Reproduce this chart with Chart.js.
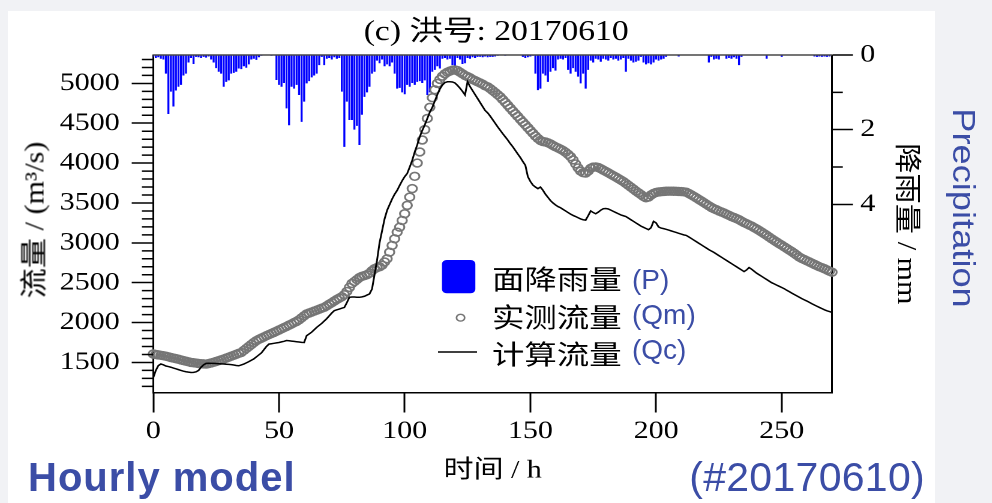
<!DOCTYPE html>
<html lang="zh">
<head>
<meta charset="utf-8">
<title>洪号 20170610</title>
<script src="https://cdn.jsdelivr.net/npm/chart.js@4/dist/chart.umd.min.js"></script>
<style>
  html, body { margin: 0; padding: 0; }
  body { position: relative; width: 992px; height: 503px; overflow: hidden; background: #f1f2f5; }
  #sheet { position: absolute; left: 8px; top: 11px; width: 927px; height: 492px; background: #fff; }
  #plot { position: absolute; left: 0; top: 0; width: 827px; height: 503px; transform: scaleX(1.2); transform-origin: 0 0; }
  .note { position: absolute; color: #3b4da6; white-space: nowrap; line-height: 1; font-family: 'Liberation Sans', Arial, sans-serif; }
  .axis-name { position: absolute; white-space: nowrap; line-height: 1; color: #000; font-family: 'Liberation Serif', 'Noto Sans CJK SC', serif; font-size: 27px; }
</style>
</head>
<body>
<div id="sheet"></div>
<div id="plot"><canvas id="hydrograph"></canvas></div>
<div class="axis-name" style="left:35px;top:220px;transform:translate(-50%,-50%) rotate(-90deg) scaleX(1.12)">流量 / (m³/s)</div>
<div class="axis-name" style="left:906px;top:224px;transform:translate(-50%,-50%) rotate(90deg) scaleX(1.12)">降雨量 / mm</div>
<div class="note" style="left:632px;top:266px;font-size:28px">(P)</div>
<div class="note" style="left:632px;top:301px;font-size:28px">(Qm)</div>
<div class="note" style="left:632px;top:336px;font-size:28px">(Qc)</div>
<div class="note" style="left:28px;top:457px;font-size:40px;font-weight:bold;letter-spacing:1px">Hourly model</div>
<div class="note" style="right:67px;top:457px;font-size:41px;letter-spacing:0.3px">(#20170610)</div>
<div class="note" style="left:963px;top:208px;font-size:31px;transform:translate(-50%,-50%) rotate(90deg) scaleX(1.17)">Precipitation</div>

<script>
// Flood event 20170610, hourly steps from hour 0 to hour 270
const hours = Array.from({ length: 271 }, (_, i) => i);

// Areal rainfall per hour (mm)
const rainfall = [
  0.05,0.08,0.06,0.1,0.12,0.5,1.58,0.98,1.38,0.95,
  0.85,0.8,0.55,0.5,0.2,0.08,0.24,0.05,0.06,0.08,
  0.05,0.07,0.04,0.12,0.2,0.35,0.45,0.5,0.85,0.72,
  0.68,0.5,0.48,0.45,0.36,0.38,0.3,0.34,0.25,0.12,
  0.1,0.13,0.06,0.02,0,0,0,0.02,0,0.67,
  0.8,0.85,0.75,1.43,1.88,0.85,0.9,0.8,1.07,1.79,
  1.25,0.76,0.7,0.6,0.55,0.5,0.27,0.05,0.27,0.1,
  0.08,0.12,0.06,0.1,0.08,0.98,2.46,1.25,1.74,1.74,
  2.0,1.9,2.41,1.6,1.12,1.0,0.85,0.5,0.45,0.15,
  0.22,0.12,0.3,0.25,0.3,0.2,0.5,0.9,0.88,1.0,
  1.05,0.8,0.85,0.75,0.8,0.72,0.7,0.75,0.68,1.07,
  1.0,0.45,0.4,0.3,0.36,0.1,0.08,0.12,0.1,0.27,
  0.3,0.08,0.12,0.24,0.22,0.08,0.1,0.06,0.08,0.05,
  0.05,0.06,0.04,0.06,0.05,0.05,0.04,0.02,0,0,
  0.02,0,0,0,0,0,0,0.05,0.08,0.06,
  0.04,0.02,0.5,0.94,0.9,0.5,0.55,0.72,0.45,0.35,
  0.42,0.12,0.1,0.12,0.08,0.4,0.5,0.35,0.45,0.58,
  0.76,0.5,0.9,0.4,0.15,0.2,0.1,0.12,0.18,0.1,
  0.12,0.15,0.08,0.12,0.1,0.15,0.12,0.08,0.45,0.1,
  0.15,0.2,0.18,0.15,0.05,0.2,0.25,0.22,0.25,0.2,
  0.12,0.15,0.12,0.1,0.05,0,0,0,0,0.04,
  0,0,0,0,0,0,0,0,0,0,
  0,0.2,0.05,0.12,0.1,0.12,0,0,0.1,0.08,
  0.1,0.06,0.1,0.27,0.05,0,0,0,0,0,
  0,0,0,0,0.1,0,0,0,0,0,
  0.05,0,0,0,0,0,0,0,0,0,
  0,0,0,0.04,0.05,0.04,0.05,0.04,0.05,0.04,
  0
];

// Measured discharge Qm (m3/s)
const observedFlow = [
  1606,1600,1595,1590,1585,1578,1570,1562,1555,1548,
  1540,1532,1524,1516,1508,1500,1496,1492,1488,1485,
  1482,1480,1486,1494,1502,1512,1522,1533,1543,1555,
  1566,1578,1590,1602,1614,1626,1650,1675,1700,1725,
  1750,1773,1790,1805,1820,1835,1850,1864,1877,1892,
  1907,1922,1937,1952,1968,1983,2000,2015,2035,2060,
  2085,2108,2120,2132,2144,2156,2168,2180,2191,2210,
  2230,2250,2270,2290,2308,2325,2350,2390,2440,2490,
  2515,2540,2565,2580,2590,2600,2620,2650,2675,2690,
  2700,2720,2760,2800,2883,2967,3051,3134,3197,3281,
  3365,3470,3574,3680,3834,4001,4140,4290,4420,4560,
  4700,4820,4920,5000,5050,5090,5120,5140,5155,5165,
  5168,5160,5140,5120,5100,5085,5070,5050,5035,5020,
  5005,4990,4970,4957,4935,4910,4885,4858,4831,4797,
  4762,4727,4690,4655,4620,4585,4550,4515,4480,4445,
  4410,4375,4340,4310,4285,4270,4265,4255,4240,4222,
  4205,4190,4175,4158,4135,4110,4080,4040,3990,3940,
  3900,3880,3875,3900,3935,3950,3952,3945,3930,3912,
  3895,3878,3860,3842,3825,3806,3788,3768,3745,3722,
  3698,3675,3650,3628,3605,3582,3565,3575,3600,3620,
  3632,3638,3642,3645,3647,3648,3648,3647,3646,3645,
  3643,3640,3635,3620,3602,3583,3565,3545,3525,3505,
  3485,3465,3445,3428,3415,3400,3388,3375,3360,3345,
  3330,3318,3305,3290,3272,3255,3240,3225,3210,3192,
  3175,3155,3135,3115,3095,3072,3050,3030,3010,2990,
  2970,2950,2930,2910,2890,2868,2845,2822,2805,2790,
  2775,2760,2745,2730,2715,2700,2688,2675,2660,2645,
  2632
];

// Computed discharge Qc (m3/s)
const simulatedFlow = [
  1311,1400,1460,1480,1470,1455,1448,1440,1430,1420,
  1410,1400,1390,1383,1378,1374,1376,1382,1400,1440,
  1470,1488,1490,1489,1488,1486,1484,1482,1480,1478,
  1476,1473,1468,1462,1458,1468,1480,1495,1510,1528,
  1545,1570,1595,1620,1660,1700,1730,1735,1740,1745,
  1750,1758,1765,1775,1772,1768,1764,1760,1756,1752,
  1750,1836,1858,1880,1910,1940,1965,1990,2020,2050,
  2085,2120,2150,2160,2170,2180,2190,2250,2317,2320,
  2320,2318,2317,2322,2330,2345,2359,2420,2600,2780,
  3000,3150,3300,3407,3480,3550,3610,3658,3720,3780,
  3830,3870,3950,4035,4140,4230,4330,4410,4480,4560,
  4640,4700,4780,4860,4930,4980,5010,5020,5020,5018,
  5005,4975,4940,4900,4855,5020,4960,4910,4860,4810,
  4760,4710,4660,4630,4590,4545,4500,4455,4412,4370,
  4330,4290,4245,4205,4160,4115,4070,4020,3973,3830,
  3770,3725,3700,3680,3700,3660,3610,3570,3530,3500,
  3475,3455,3440,3420,3400,3380,3360,3344,3330,3315,
  3300,3290,3285,3340,3400,3380,3365,3385,3410,3428,
  3430,3425,3410,3395,3380,3365,3350,3340,3330,3310,
  3290,3270,3250,3230,3210,3195,3180,3165,3190,3270,
  3250,3200,3185,3178,3170,3160,3150,3140,3130,3120,
  3110,3100,3093,3075,3055,3035,3015,2995,2975,2955,
  2935,2915,2897,2880,2860,2840,2820,2800,2780,2760,
  2740,2720,2700,2680,2660,2640,2660,2690,2670,2645,
  2620,2600,2580,2560,2540,2520,2500,2485,2470,2455,
  2440,2425,2405,2388,2370,2352,2335,2318,2300,2285,
  2270,2253,2236,2220,2205,2190,2175,2160,2148,2138,
  2128
];

// Axis ticks
const hourTicks = [0, 50, 100, 150, 200, 250];
const flowTicks = [1500, 2000, 2500, 3000, 3500, 4000, 4500, 5000];
const flowMinorTicks = [1200, 1300, 1400, 1600, 1700, 1800, 1900, 2100, 2200, 2300, 2400,
  2600, 2700, 2800, 2900, 3100, 3200, 3300, 3400, 3600, 3700, 3800, 3900,
  4100, 4200, 4300, 4400, 4600, 4700, 4800, 4900, 5100, 5200, 5300];
const rainTicks = [0, 2, 4];
const rainMinorTicks = [1, 3];

const SERIF = "'Liberation Serif', 'Noto Sans CJK SC', serif";
const toPoints = values => hours.map((h, i) => ({ x: h, y: values[i] }));
const asTicks = values => values.map(v => ({ value: v }));
const plainNumber = v => String(v);

// Short minor ticks on both value axes plus the top edge of the frame
const frameAndMinorTicks = {
  id: 'frameAndMinorTicks',
  afterDraw(chart) {
    const { ctx, chartArea: a, scales } = chart;
    ctx.save();
    ctx.strokeStyle = '#000';
    ctx.lineWidth = 1.5;
    ctx.beginPath();
    flowMinorTicks.forEach(v => {
      const y = scales.y.getPixelForValue(v);
      ctx.moveTo(a.left - 9.5, y);
      ctx.lineTo(a.left, y);
    });
    rainMinorTicks.forEach(v => {
      const y = scales.yR.getPixelForValue(v);
      ctx.moveTo(a.right, y);
      ctx.lineTo(a.right + 9, y);
    });
    ctx.stroke();
    ctx.strokeStyle = '#474747';
    ctx.lineWidth = 1.6;
    ctx.beginPath();
    ctx.moveTo(a.left, a.top);
    ctx.lineTo(a.right, a.top);
    ctx.stroke();
    ctx.restore();
  }
};

// Legend block inside the plot, styled from the datasets themselves
const legendBlock = {
  id: 'legendBlock',
  afterDraw(chart) {
    const { ctx } = chart;
    const byKey = k => chart.data.datasets.find(d => d.key === k);
    const rain = byKey('P'), obs = byKey('Qm'), sim = byKey('Qc');
    ctx.save();
    ctx.fillStyle = rain.backgroundColor;
    ctx.beginPath();
    ctx.roundRect(368.3, 260, 27.8, 33.3, 4);
    ctx.fill();
    ctx.strokeStyle = obs.borderColor;
    ctx.lineWidth = 1.4;
    ctx.beginPath();
    ctx.arc(383.8, 317.7, 3.4, 0, Math.PI * 2);
    ctx.stroke();
    ctx.strokeStyle = sim.borderColor;
    ctx.lineWidth = sim.borderWidth;
    ctx.beginPath();
    ctx.moveTo(365, 352);
    ctx.lineTo(397.5, 352);
    ctx.stroke();
    ctx.fillStyle = '#000';
    ctx.font = "27px 'Noto Sans CJK SC', sans-serif";
    ctx.textBaseline = 'middle';
    ctx.textAlign = 'left';
    ctx.fillText(rain.label, 410, 279);
    ctx.fillText(obs.label, 410, 317);
    ctx.fillText(sim.label, 410, 354);
    ctx.restore();
  }
};

const tickFont = { family: SERIF, size: 25 };
const axisBorder = { display: true, color: '#000', width: 1.5 };

new Chart(document.getElementById('hydrograph'), {
  type: 'scatter',
  data: {
    datasets: [
      {
        key: 'Qc', type: 'line', label: '计算流量',
        data: toPoints(simulatedFlow),
        xAxisID: 'x', yAxisID: 'y',
        borderColor: '#000', borderWidth: 1.5,
        pointRadius: 0, tension: 0, fill: false, order: 0
      },
      {
        key: 'Qm', type: 'scatter', label: '实测流量',
        data: toPoints(observedFlow),
        xAxisID: 'x', yAxisID: 'y',
        pointStyle: 'circle', pointRadius: 3.9,
        borderColor: '#767676', pointBorderColor: '#767676',
        borderWidth: 1.6, pointBorderWidth: 1.6,
        backgroundColor: 'rgba(255,255,255,0)', pointBackgroundColor: 'rgba(255,255,255,0)',
        clip: false, order: 1
      },
      {
        key: 'P', type: 'bar', label: '面降雨量',
        data: toPoints(rainfall),
        xAxisID: 'x', yAxisID: 'yR',
        backgroundColor: '#0000ff', borderWidth: 0,
        barPercentage: 0.8, categoryPercentage: 1, order: 2
      }
    ]
  },
  options: {
    responsive: true,
    maintainAspectRatio: false,
    devicePixelRatio: 2,
    animation: false,
    events: [],
    layout: { padding: 0 },
    plugins: {
      legend: { display: false },
      tooltip: { enabled: false },
      title: {
        display: true,
        text: '(c) 洪号: 20170610',
        color: '#000',
        font: { family: SERIF, size: 28, weight: 'normal' },
        padding: { top: 16, bottom: 5.4 }
      }
    },
    scales: {
      x: {
        type: 'linear', position: 'bottom', min: 0, max: 270, offset: false,
        afterFit: s => { s.height = 110.5; },
        afterBuildTicks: s => { s.ticks = asTicks(hourTicks); },
        ticks: { font: tickFont, color: '#000', padding: 4, maxRotation: 0, autoSkip: false, callback: plainNumber },
        grid: { offset: false, drawOnChartArea: false, drawTicks: true, tickLength: 20, tickWidth: 1.5, tickColor: '#000' },
        border: axisBorder,
        title: { display: true, text: '时间 / h', color: '#000', font: { family: SERIF, size: 25 }, padding: { top: 0, bottom: 17 } }
      },
      y: {
        type: 'linear', position: 'left', min: 1123, max: 5356,
        afterFit: s => { s.width = 127.75; },
        afterBuildTicks: s => { s.ticks = asTicks(flowTicks); },
        ticks: { font: tickFont, color: '#000', padding: 10, autoSkip: false, callback: plainNumber },
        grid: { drawOnChartArea: false, drawTicks: true, tickLength: 18, tickWidth: 1.5, tickColor: '#000' },
        border: axisBorder
      },
      yR: {
        type: 'linear', position: 'right', reverse: true, min: 0, max: 9.04,
        afterFit: s => { s.width = 133.67; },
        afterBuildTicks: s => { s.ticks = asTicks(rainTicks); },
        ticks: { font: tickFont, color: '#000', padding: 6, autoSkip: false, callback: plainNumber },
        grid: { drawOnChartArea: false, drawTicks: true, tickLength: 17.5, tickWidth: 1.5, tickColor: '#000' },
        border: axisBorder
      }
    }
  },
  plugins: [frameAndMinorTicks, legendBlock]
});
</script>
</body>
</html>
